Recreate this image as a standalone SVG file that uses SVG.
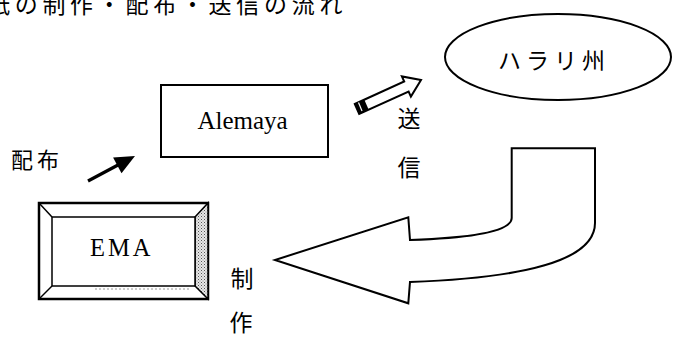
<svg xmlns="http://www.w3.org/2000/svg" width="673" height="338" viewBox="0 0 673 338">
  <style>
    .jp { font-family: "Noto Sans CJK JP", "Noto Sans", sans-serif; fill: #000; }
    .en { font-family: "Liberation Serif", "Times New Roman", serif; fill: #000; }
    .box { fill: #fff; stroke: #000; stroke-width: 2; }
    .outline { fill: #fff; stroke: #000; stroke-width: 2; stroke-linejoin: miter; }
  </style>
  <defs>
    <pattern id="stipple" width="3" height="3" patternUnits="userSpaceOnUse">
      <rect width="3" height="3" fill="#e6e6e6"/>
      <rect x="0" y="0" width="1" height="1" fill="#555"/>
      <rect x="1.5" y="1.5" width="1" height="1" fill="#888"/>
    </pattern>
  </defs>
  <rect width="673" height="338" fill="#fff"/>

  <g id="title">
    <text class="jp" x="-13" y="13" font-size="23" letter-spacing="4.7">紙の制作・配布・送信の流れ</text>
  </g>

  <g id="node-harari">
    <ellipse cx="558" cy="57" rx="113" ry="43" fill="#fff" stroke="#000" stroke-width="2"/>
    <text class="jp" x="498" y="68.7" font-size="23" letter-spacing="5">ハラリ州</text>
  </g>

  <g id="node-alemaya">
    <rect class="box" x="161" y="85" width="167" height="72"/>
    <text class="en" x="242.5" y="128.5" font-size="25" text-anchor="middle">Alemaya</text>
  </g>

  <g id="node-ema">
    <rect x="39" y="203" width="169" height="96" fill="#fff" stroke="#000" stroke-width="2.5"/>
    <polygon points="195,217 208,203 208,299 195,286" fill="url(#stipple)" stroke="#000" stroke-width="1.5"/>
    <line x1="39" y1="203" x2="52" y2="217" stroke="#000" stroke-width="1.5"/>
    <line x1="39" y1="299" x2="52" y2="286" stroke="#000" stroke-width="1.5"/>
    <rect x="52" y="217" width="143" height="69" fill="#fff" stroke="#000" stroke-width="1.5"/>
    <line x1="95" y1="289" x2="190" y2="289" stroke="#999" stroke-width="1" stroke-dasharray="2,2"/>
    <text class="en" x="90" y="255.5" font-size="24.5" letter-spacing="3">EMA</text>
  </g>

  <g id="connectors">
    <!-- send: Alemaya to Harari (pencil-style block arrow) -->
    <g id="edge-send">
      <polygon class="outline" stroke-width="1.8" points="354.8,104 404.2,81.5 401.9,76.4 421,80 410.9,96.6 408.6,91.5 359.2,114"/>
      <polygon points="354.8,104 364.3,99.7 368.7,109.7 359.2,114" fill="#000"/>
      <line x1="358.5" y1="102.6" x2="362" y2="111" stroke="#fff" stroke-width="1.2"/>
    </g>
    <!-- distribute: EMA to Alemaya -->
    <g id="edge-distribute">
      <line x1="88" y1="181" x2="118" y2="165" stroke="#000" stroke-width="3.2"/>
      <polygon points="135,156 121.5,173.3 113.1,157.5" fill="#000"/>
    </g>
    <!-- produce: Harari to EMA (big curved block arrow) -->
    <g id="edge-produce">
      <path class="outline" d="M511.7,148.3 L595,148.3 L595,223 C595,262 520,278 410,282 L408.3,303.3 L275,260 L408.3,217.3 L410,240 C470,238 511.7,232 511.7,218 Z"/>
    </g>
  </g>

  <g id="labels">
    <text class="jp" x="409" y="127.2" font-size="23" text-anchor="middle">送</text>
    <text class="jp" x="409" y="175.7" font-size="23" text-anchor="middle">信</text>
    <text class="jp" x="11" y="168.4" font-size="22" letter-spacing="4">配布</text>
    <text class="jp" x="242" y="286.7" font-size="23" text-anchor="middle">制</text>
    <text class="jp" x="241" y="331" font-size="23" text-anchor="middle">作</text>
  </g>
</svg>
